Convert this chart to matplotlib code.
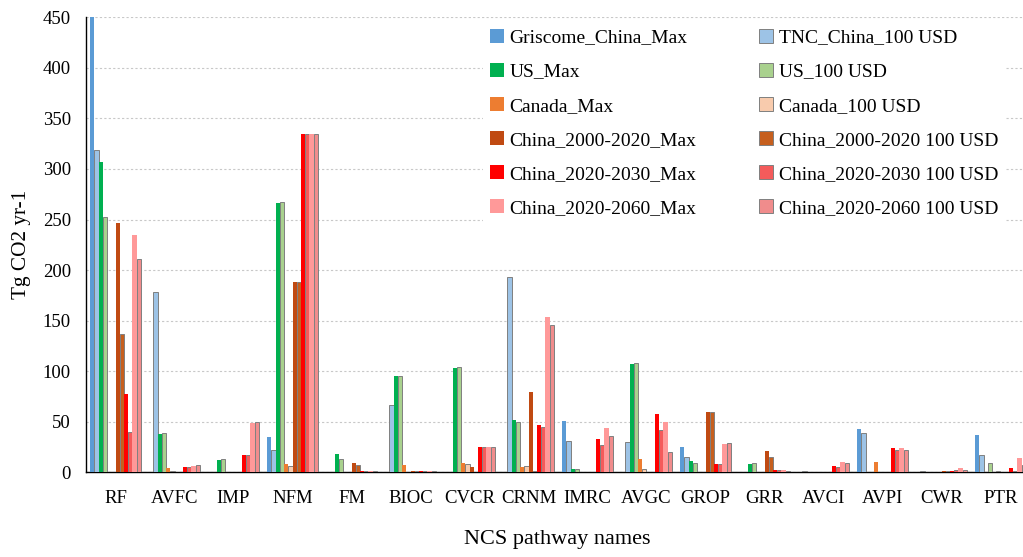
import numpy as np
import matplotlib
matplotlib.use("Agg")
import matplotlib.pyplot as plt

plt.rcParams['font.family'] = ['Liberation Serif', 'DejaVu Serif']

# NCS pathways
pathways = ['RF', 'AVFC', 'IMP', 'NFM', 'FM', 'BIOC', 'CVCR', 'CRNM',
            'IMRC', 'AVGC', 'GROP', 'GRR', 'AVCI', 'AVPI', 'CWR', 'PTR']

# values in Tg CO2 yr-1
griscome_max   = [450, 0, 0, 35, 0, 0, 0, 0, 51, 0, 25, 0, 0, 42.5, 0, 36.6]
tnc_100        = [319, 178, 0, 21.7, 0, 66.3, 0, 193, 31, 29.7, 15.5, 0, 1, 38.6, 1, 17]
us_max         = [307, 37.6, 12.2, 266, 17.8, 95.3, 103.5, 51.7, 3.6, 107.6, 10.9, 8.2, 0, 0, 0, 0]
us_100         = [252, 38.5, 12.9, 267.4, 13.2, 95.6, 103.8, 50, 3.6, 108.4, 9.2, 8.9, 0, 0, 0, 9.5]
canada_max     = [0, 4, 0, 7.9, 0, 6.9, 9.5, 5.5, 0, 13, 0, 0, 0, 9.9, 0, 0]
canada_100     = [0, 1.6, 0, 6.6, 0, 0, 8.2, 6.5, 0, 3.3, 0, 0, 0, 0, 0, 1]
china2000_max  = [247, 0, 0, 188.5, 9.5, 1, 5.5, 79, 0, 0, 59.6, 21, 0, 0, 1, 0]
china2000_100  = [136.5, 0, 0, 188.5, 7.2, 1, 0, 1.6, 0, 0, 60, 15.5, 0, 0, 1, 0]
china2030_max  = [77, 5.5, 16.8, 335, 1.5, 1, 25.3, 46.5, 33.2, 57.7, 7.9, 2, 6.2, 24, 1.5, 4]
china2030_100  = [40, 5.5, 16.8, 335, 1, 1, 25.3, 44.8, 27, 41.5, 8, 2, 5, 21.8, 2, 1.5]
china2060_max  = [234.5, 6.5, 49, 335, 1, 1, 25.3, 153.3, 44, 49.8, 28.3, 2, 9.9, 23.7, 4, 14.4]
china2060_100  = [211, 7, 49.7, 335, 1, 1, 25.5, 145.7, 36, 20.4, 29, 1.5, 9.5, 22, 2.5, 7.2]

series = [
    ('Griscome_China_Max', griscome_max, '#5B9BD5', False),
    ('TNC_China_100 USD', tnc_100, '#9DC3E6', True),
    ('US_Max', us_max, '#00B050', False),
    ('US_100 USD', us_100, '#A9D18E', True),
    ('Canada_Max', canada_max, '#ED7D31', False),
    ('Canada_100 USD', canada_100, '#F8CBAD', True),
    ('China_2000-2020_Max', china2000_max, '#C04A12', False),
    ('China_2000-2020 100 USD', china2000_100, '#C65F1E', True),
    ('China_2020-2030_Max', china2030_max, '#FF0000', False),
    ('China_2020-2030 100 USD', china2030_100, '#F45B5B', True),
    ('China_2020-2060_Max', china2060_max, '#FF9999', False),
    ('China_2020-2060 100 USD', china2060_100, '#F08C8C', True),
]

W, H = 1023, 557
fig = plt.figure(figsize=(W / 100, H / 100), dpi=100)
# axis runs slightly past the right edge of the picture, like the original crop
ax = fig.add_axes([86 / W, (H - 472.3) / H, 944 / W, 455 / H])

x = np.arange(len(pathways))
w = 0.0712
handles = []
for k, (name, vals, col, edged) in enumerate(series):
    b = ax.bar(x + (k - 5.5) * w, vals, width=w, color=col, label=name,
               edgecolor='#7F7F7F' if edged else col,
               linewidth=0.7 if edged else 0, zorder=3)
    handles.append(b)

ax.set_xlim(-0.5, len(pathways) - 0.5)
ax.set_ylim(0, 450)
ax.set_yticks(np.arange(0, 451, 50))
ax.set_xticks(x)
ax.set_xticklabels(pathways, fontsize=13.5)
ax.tick_params(axis='y', length=0, pad=10.8, labelsize=13.5)
ax.tick_params(axis='x', length=0, pad=13)

ax.grid(axis='y', color='#C8C8C8', linestyle=(0, (2, 2)), linewidth=0.8, zorder=0)
for s in ['top', 'right']:
    ax.spines[s].set_visible(False)
ax.spines['left'].set_linewidth(1.0)
ax.spines['bottom'].set_linewidth(1.0)

ax.set_xlabel('NCS pathway names', fontsize=16)
ax.xaxis.set_label_coords(471 / 944, -(530 - 472.3) / 455)
ax.set_ylabel('Tg CO2 yr-1', fontsize=15.3)
ax.yaxis.set_label_coords(-(86 - 31) / 944, 0.5)

# Excel lists legend row-wise, matplotlib fills columns first
order = [0, 2, 4, 6, 8, 10, 1, 3, 5, 7, 9, 11]
leg = ax.legend([handles[i] for i in order], [series[i][0] for i in order],
                ncol=2, fontsize=14, loc='upper left',
                bbox_to_anchor=(483 / W, 1 - 22 / H), bbox_transform=fig.transFigure,
                borderaxespad=0, borderpad=0.35, handlelength=0.72, handleheight=0.72,
                handletextpad=0.3, columnspacing=3.2, labelspacing=0.84,
                frameon=True, fancybox=False, framealpha=1)
leg.get_frame().set_edgecolor('white')
leg.get_frame().set_linewidth(0)
leg.set_zorder(5)

fig.savefig('out.png', dpi=100)
